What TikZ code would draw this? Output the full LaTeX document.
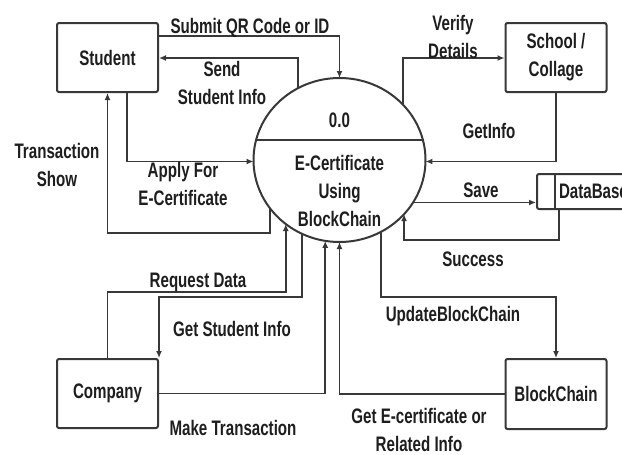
\documentclass[tikz,border=0pt]{standalone}
\usepackage{fontspec}
\setmainfont[FakeStretch=0.72]{Liberation Sans}
\usetikzlibrary{shapes.geometric,arrows.meta,calc}
\definecolor{ln}{HTML}{383838}
\definecolor{txt}{HTML}{1E1E1E}
\tikzset{
  box/.style={draw=ln, line width=2pt, rounded corners=2pt, minimum width=101pt,
    minimum height=69pt, inner sep=0pt, text=txt, align=center},
  dbbox/.style={draw=ln, line width=2pt, rounded corners=2pt, anchor=west,
    minimum height=35pt, inner xsep=22pt, inner ysep=0pt, text=txt},
  arr/.style={draw=ln, line width=1.9pt, -{Latex[length=7pt,width=6pt]}},
  lbl/.style={text=txt, inner sep=0pt, anchor=base, align=center},
}
\begin{document}
\begin{tikzpicture}[x=1pt,y=-1pt,font=\fontsize{21}{28}\selectfont\bfseries]
\clip (0,0) rectangle (622,455);
\fill[white] (0,0) rectangle (622,455);

% boxes
\node[box] (student) at (107.5,57.5) {Student};
\node[box] (school) at (556,57.5) {School /\\Collage};
\node[box] (company) at (107.5,393.5) {Company};
\node[box, minimum height=70pt] (bc) at (556,394) {BlockChain};
\node[dbbox] (db) at (536,191.5) {DataBase};
\draw[ln, line width=1.9pt] ($(db.north west)+(19,0)$) -- ($(db.south west)+(19,0)$);

% process
\node[ellipse, draw=ln, line width=2pt, minimum width=172pt, minimum height=164pt,
  inner sep=0pt, outer sep=0pt] (p) at (339.5,160) {};
\draw[ln, line width=1.9pt] ($(p.center)+(-83.4,-20)$) -- ($(p.center)+(83.4,-20)$);
\node[lbl] (t00) at (339.5,127) {0.0};
\node[lbl, anchor=north] (tec) at (339.5,155) {E-Certificate\\Using\\BlockChain};

% connectors
\draw[arr] (student.east |- 0,36) -| (p.north);
\draw[arr] (p.120) |- (student.east |- 0,58);
\draw[arr] (student.south -| 127,0) |- (p.181);
\draw[arr] (p.215) |- (student.south |- 0,233) -- (student.south);
\draw[arr] (p.41) |- (school.west |- 0,58);
\draw[arr] (school.south) |- (p.359);
\draw[arr] (p.330) -- (p.330 -| db.west);
\draw[arr] (db.south -| 559,0) |- (p.320 |- 0,240) -- (p.320);
\draw[arr] (company.north) |- (p.230 |- 0,292) -- (p.230);
\draw[arr] (p.243) |- (company.north east |- 0,297) -- (company.north east);
\draw[arr] (company.east) -| (p.260);
\draw[arr] (p.300) |- (bc.north |- 0,297) -- (bc.north);
\draw[arr] (bc.west) -| (p.south);

% labels
\node[lbl] (l1) at (250,34) {Submit QR Code or ID};
\node[lbl, anchor=north] (l2) at (222,61) {Send\\Student Info};
\node[lbl, anchor=north] (l3) at (183,162) {Apply For\\E-Certificate};
\node[lbl, anchor=north] (l4) at (57,143) {Transaction\\Show};
\node[lbl, anchor=north] (l5) at (453,15) {Verify\\Details};
\node[lbl] (l6) at (489,138) {GetInfo};
\node[lbl] (l7) at (481,197) {Save};
\node[lbl] (l8) at (473,266) {Success};
\node[lbl] (l9) at (198,287) {Request Data};
\node[lbl] (l10) at (232,336) {Get Student Info};
\node[lbl] (l11) at (233,435) {Make Transaction};
\node[lbl] (l12) at (453,321) {UpdateBlockChain};
\node[lbl, anchor=north] (l13) at (419,408) {Get E-certificate or\\Related Info};
\end{tikzpicture}
\end{document}
